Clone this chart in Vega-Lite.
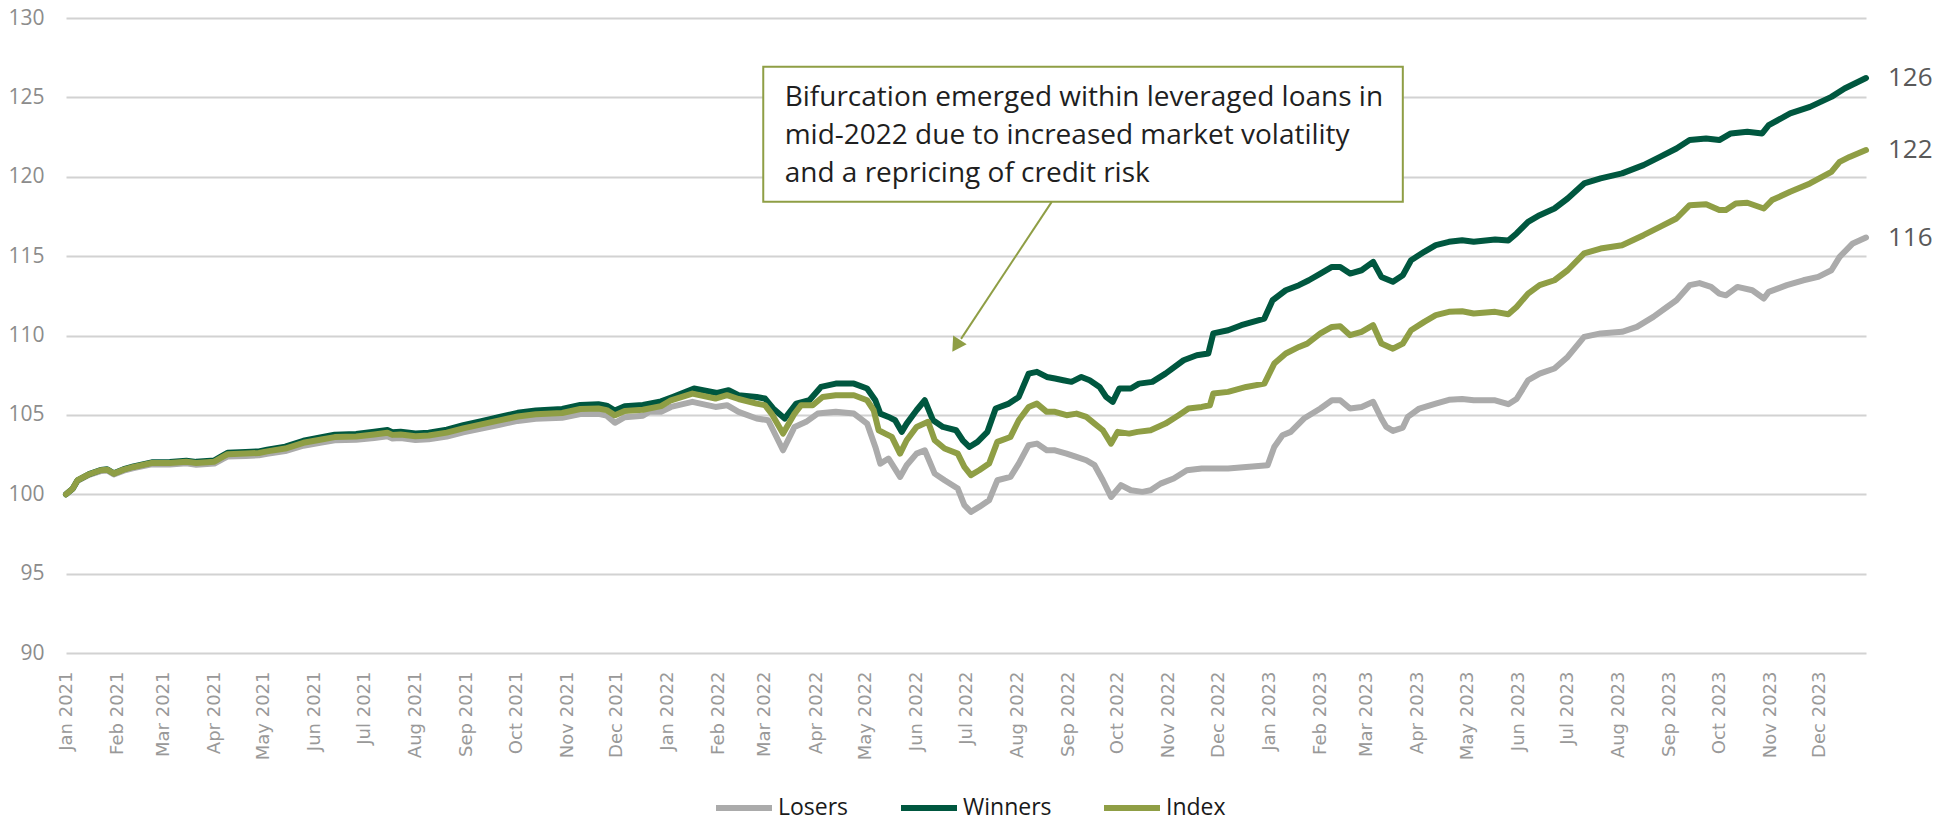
{
  "$schema": "https://vega.github.io/schema/vega-lite/v6.json",
  "width": 1800,
  "height": 635,
  "autosize": {"type": "none"},
  "padding": {"left": 66, "top": 18, "right": 91, "bottom": 170},
  "background": "white",
  "config": {
    "view": {"stroke": null},
    "font": "Open Sans"
  },
  "datasets": {
    "series": [
      {"date":"2021-01-01","series":"Losers","value":100.00},
      {"date":"2021-01-05","series":"Losers","value":100.33},
      {"date":"2021-01-08","series":"Losers","value":100.85},
      {"date":"2021-01-15","series":"Losers","value":101.22},
      {"date":"2021-01-22","series":"Losers","value":101.46},
      {"date":"2021-01-26","series":"Losers","value":101.50},
      {"date":"2021-01-30","series":"Losers","value":101.25},
      {"date":"2021-02-05","series":"Losers","value":101.49},
      {"date":"2021-02-11","series":"Losers","value":101.65},
      {"date":"2021-02-22","series":"Losers","value":101.89},
      {"date":"2021-03-05","series":"Losers","value":101.88},
      {"date":"2021-03-15","series":"Losers","value":101.95},
      {"date":"2021-03-21","series":"Losers","value":101.86},
      {"date":"2021-04-01","series":"Losers","value":101.93},
      {"date":"2021-04-06","series":"Losers","value":102.22},
      {"date":"2021-04-09","series":"Losers","value":102.38},
      {"date":"2021-04-20","series":"Losers","value":102.41},
      {"date":"2021-04-28","series":"Losers","value":102.45},
      {"date":"2021-05-03","series":"Losers","value":102.55},
      {"date":"2021-05-14","series":"Losers","value":102.72},
      {"date":"2021-05-25","series":"Losers","value":103.06},
      {"date":"2021-06-05","series":"Losers","value":103.26},
      {"date":"2021-06-13","series":"Losers","value":103.40},
      {"date":"2021-06-26","series":"Losers","value":103.43},
      {"date":"2021-07-07","series":"Losers","value":103.55},
      {"date":"2021-07-15","series":"Losers","value":103.65},
      {"date":"2021-07-18","series":"Losers","value":103.51},
      {"date":"2021-07-23","series":"Losers","value":103.54},
      {"date":"2021-08-01","series":"Losers","value":103.42},
      {"date":"2021-08-09","series":"Losers","value":103.46},
      {"date":"2021-08-20","series":"Losers","value":103.64},
      {"date":"2021-08-30","series":"Losers","value":103.90},
      {"date":"2021-09-10","series":"Losers","value":104.14},
      {"date":"2021-09-21","series":"Losers","value":104.38},
      {"date":"2021-10-02","series":"Losers","value":104.62},
      {"date":"2021-10-13","series":"Losers","value":104.75},
      {"date":"2021-10-29","series":"Losers","value":104.82},
      {"date":"2021-11-09","series":"Losers","value":105.05},
      {"date":"2021-11-20","series":"Losers","value":105.07},
      {"date":"2021-11-25","series":"Losers","value":104.95},
      {"date":"2021-11-30","series":"Losers","value":104.50},
      {"date":"2021-12-06","series":"Losers","value":104.85},
      {"date":"2021-12-17","series":"Losers","value":104.95},
      {"date":"2021-12-21","series":"Losers","value":105.20},
      {"date":"2021-12-28","series":"Losers","value":105.20},
      {"date":"2022-01-03","series":"Losers","value":105.50},
      {"date":"2022-01-16","series":"Losers","value":105.82},
      {"date":"2022-01-30","series":"Losers","value":105.50},
      {"date":"2022-02-06","series":"Losers","value":105.61},
      {"date":"2022-02-13","series":"Losers","value":105.19},
      {"date":"2022-02-24","series":"Losers","value":104.77},
      {"date":"2022-03-03","series":"Losers","value":104.66},
      {"date":"2022-03-12","series":"Losers","value":102.77},
      {"date":"2022-03-19","series":"Losers","value":104.24},
      {"date":"2022-03-26","series":"Losers","value":104.56},
      {"date":"2022-04-02","series":"Losers","value":105.08},
      {"date":"2022-04-13","series":"Losers","value":105.19},
      {"date":"2022-04-24","series":"Losers","value":105.08},
      {"date":"2022-05-02","series":"Losers","value":104.45},
      {"date":"2022-05-07","series":"Losers","value":102.98},
      {"date":"2022-05-10","series":"Losers","value":101.93},
      {"date":"2022-05-15","series":"Losers","value":102.25},
      {"date":"2022-05-22","series":"Losers","value":101.09},
      {"date":"2022-05-26","series":"Losers","value":101.83},
      {"date":"2022-06-01","series":"Losers","value":102.56},
      {"date":"2022-06-06","series":"Losers","value":102.77},
      {"date":"2022-06-12","series":"Losers","value":101.30},
      {"date":"2022-06-18","series":"Losers","value":100.88},
      {"date":"2022-06-26","series":"Losers","value":100.36},
      {"date":"2022-06-30","series":"Losers","value":99.31},
      {"date":"2022-07-04","series":"Losers","value":98.89},
      {"date":"2022-07-09","series":"Losers","value":99.20},
      {"date":"2022-07-15","series":"Losers","value":99.62},
      {"date":"2022-07-20","series":"Losers","value":100.88},
      {"date":"2022-07-28","series":"Losers","value":101.09},
      {"date":"2022-08-02","series":"Losers","value":101.93},
      {"date":"2022-08-08","series":"Losers","value":103.09},
      {"date":"2022-08-13","series":"Losers","value":103.19},
      {"date":"2022-08-19","series":"Losers","value":102.77},
      {"date":"2022-08-24","series":"Losers","value":102.77},
      {"date":"2022-08-31","series":"Losers","value":102.56},
      {"date":"2022-09-06","series":"Losers","value":102.35},
      {"date":"2022-09-12","series":"Losers","value":102.14},
      {"date":"2022-09-17","series":"Losers","value":101.83},
      {"date":"2022-09-22","series":"Losers","value":100.88},
      {"date":"2022-09-27","series":"Losers","value":99.83},
      {"date":"2022-10-03","series":"Losers","value":100.57},
      {"date":"2022-10-09","series":"Losers","value":100.25},
      {"date":"2022-10-16","series":"Losers","value":100.15},
      {"date":"2022-10-21","series":"Losers","value":100.25},
      {"date":"2022-10-27","series":"Losers","value":100.67},
      {"date":"2022-11-04","series":"Losers","value":100.99},
      {"date":"2022-11-12","series":"Losers","value":101.51},
      {"date":"2022-11-21","series":"Losers","value":101.62},
      {"date":"2022-11-29","series":"Losers","value":101.62},
      {"date":"2022-12-07","series":"Losers","value":101.62},
      {"date":"2022-12-18","series":"Losers","value":101.72},
      {"date":"2022-12-31","series":"Losers","value":101.83},
      {"date":"2023-01-04","series":"Losers","value":102.98},
      {"date":"2023-01-09","series":"Losers","value":103.72},
      {"date":"2023-01-14","series":"Losers","value":103.93},
      {"date":"2023-01-22","series":"Losers","value":104.77},
      {"date":"2023-02-01","series":"Losers","value":105.40},
      {"date":"2023-02-08","series":"Losers","value":105.92},
      {"date":"2023-02-13","series":"Losers","value":105.92},
      {"date":"2023-02-19","series":"Losers","value":105.40},
      {"date":"2023-02-26","series":"Losers","value":105.50},
      {"date":"2023-03-05","series":"Losers","value":105.82},
      {"date":"2023-03-10","series":"Losers","value":104.77},
      {"date":"2023-03-13","series":"Losers","value":104.24},
      {"date":"2023-03-17","series":"Losers","value":103.99},
      {"date":"2023-03-23","series":"Losers","value":104.20},
      {"date":"2023-03-26","series":"Losers","value":104.87},
      {"date":"2023-04-02","series":"Losers","value":105.40},
      {"date":"2023-04-12","series":"Losers","value":105.71},
      {"date":"2023-04-20","series":"Losers","value":105.95},
      {"date":"2023-04-28","series":"Losers","value":106.00},
      {"date":"2023-05-05","series":"Losers","value":105.92},
      {"date":"2023-05-18","series":"Losers","value":105.92},
      {"date":"2023-05-26","series":"Losers","value":105.67},
      {"date":"2023-05-31","series":"Losers","value":106.00},
      {"date":"2023-06-07","series":"Losers","value":107.18},
      {"date":"2023-06-14","series":"Losers","value":107.60},
      {"date":"2023-06-23","series":"Losers","value":107.92},
      {"date":"2023-07-01","series":"Losers","value":108.65},
      {"date":"2023-07-11","series":"Losers","value":109.91},
      {"date":"2023-07-21","series":"Losers","value":110.13},
      {"date":"2023-08-03","series":"Losers","value":110.23},
      {"date":"2023-08-12","series":"Losers","value":110.54},
      {"date":"2023-08-22","series":"Losers","value":111.17},
      {"date":"2023-08-29","series":"Losers","value":111.70},
      {"date":"2023-09-05","series":"Losers","value":112.22},
      {"date":"2023-09-13","series":"Losers","value":113.17},
      {"date":"2023-09-19","series":"Losers","value":113.30},
      {"date":"2023-09-26","series":"Losers","value":113.06},
      {"date":"2023-10-01","series":"Losers","value":112.64},
      {"date":"2023-10-05","series":"Losers","value":112.53},
      {"date":"2023-10-12","series":"Losers","value":113.06},
      {"date":"2023-10-21","series":"Losers","value":112.85},
      {"date":"2023-10-28","series":"Losers","value":112.33},
      {"date":"2023-10-31","series":"Losers","value":112.75},
      {"date":"2023-11-11","series":"Losers","value":113.17},
      {"date":"2023-11-21","series":"Losers","value":113.48},
      {"date":"2023-11-30","series":"Losers","value":113.69},
      {"date":"2023-12-08","series":"Losers","value":114.11},
      {"date":"2023-12-13","series":"Losers","value":114.95},
      {"date":"2023-12-21","series":"Losers","value":115.80},
      {"date":"2023-12-29","series":"Losers","value":116.17},

      {"date":"2021-01-01","series":"Winners","value":100.00},
      {"date":"2021-01-05","series":"Winners","value":100.35},
      {"date":"2021-01-08","series":"Winners","value":100.88},
      {"date":"2021-01-15","series":"Winners","value":101.27},
      {"date":"2021-01-22","series":"Winners","value":101.53},
      {"date":"2021-01-26","series":"Winners","value":101.57},
      {"date":"2021-01-30","series":"Winners","value":101.32},
      {"date":"2021-02-05","series":"Winners","value":101.58},
      {"date":"2021-02-11","series":"Winners","value":101.75},
      {"date":"2021-02-22","series":"Winners","value":102.01},
      {"date":"2021-03-05","series":"Winners","value":102.03},
      {"date":"2021-03-15","series":"Winners","value":102.11},
      {"date":"2021-03-21","series":"Winners","value":102.04},
      {"date":"2021-04-01","series":"Winners","value":102.13},
      {"date":"2021-04-06","series":"Winners","value":102.43},
      {"date":"2021-04-09","series":"Winners","value":102.61},
      {"date":"2021-04-20","series":"Winners","value":102.66},
      {"date":"2021-04-28","series":"Winners","value":102.70},
      {"date":"2021-05-03","series":"Winners","value":102.81},
      {"date":"2021-05-14","series":"Winners","value":103.00},
      {"date":"2021-05-25","series":"Winners","value":103.37},
      {"date":"2021-06-05","series":"Winners","value":103.59},
      {"date":"2021-06-13","series":"Winners","value":103.75},
      {"date":"2021-06-26","series":"Winners","value":103.80},
      {"date":"2021-07-07","series":"Winners","value":103.94},
      {"date":"2021-07-15","series":"Winners","value":104.05},
      {"date":"2021-07-18","series":"Winners","value":103.91},
      {"date":"2021-07-23","series":"Winners","value":103.94},
      {"date":"2021-08-01","series":"Winners","value":103.83},
      {"date":"2021-08-09","series":"Winners","value":103.88},
      {"date":"2021-08-20","series":"Winners","value":104.07},
      {"date":"2021-08-30","series":"Winners","value":104.35},
      {"date":"2021-09-10","series":"Winners","value":104.61},
      {"date":"2021-09-21","series":"Winners","value":104.87},
      {"date":"2021-10-02","series":"Winners","value":105.13},
      {"date":"2021-10-13","series":"Winners","value":105.28},
      {"date":"2021-10-29","series":"Winners","value":105.37},
      {"date":"2021-11-09","series":"Winners","value":105.63},
      {"date":"2021-11-20","series":"Winners","value":105.67},
      {"date":"2021-11-25","series":"Winners","value":105.58},
      {"date":"2021-11-30","series":"Winners","value":105.27},
      {"date":"2021-12-06","series":"Winners","value":105.55},
      {"date":"2021-12-17","series":"Winners","value":105.62},
      {"date":"2021-12-28","series":"Winners","value":105.85},
      {"date":"2022-01-04","series":"Winners","value":106.13},
      {"date":"2022-01-17","series":"Winners","value":106.66},
      {"date":"2022-01-31","series":"Winners","value":106.38},
      {"date":"2022-02-07","series":"Winners","value":106.55},
      {"date":"2022-02-13","series":"Winners","value":106.24},
      {"date":"2022-02-24","series":"Winners","value":106.13},
      {"date":"2022-03-01","series":"Winners","value":106.03},
      {"date":"2022-03-06","series":"Winners","value":105.40},
      {"date":"2022-03-13","series":"Winners","value":104.77},
      {"date":"2022-03-20","series":"Winners","value":105.71},
      {"date":"2022-03-28","series":"Winners","value":105.92},
      {"date":"2022-04-04","series":"Winners","value":106.76},
      {"date":"2022-04-13","series":"Winners","value":106.97},
      {"date":"2022-04-24","series":"Winners","value":106.97},
      {"date":"2022-05-02","series":"Winners","value":106.66},
      {"date":"2022-05-07","series":"Winners","value":105.92},
      {"date":"2022-05-10","series":"Winners","value":105.08},
      {"date":"2022-05-15","series":"Winners","value":104.87},
      {"date":"2022-05-19","series":"Winners","value":104.66},
      {"date":"2022-05-23","series":"Winners","value":103.93},
      {"date":"2022-05-26","series":"Winners","value":104.45},
      {"date":"2022-06-01","series":"Winners","value":105.29},
      {"date":"2022-06-06","series":"Winners","value":105.92},
      {"date":"2022-06-11","series":"Winners","value":104.66},
      {"date":"2022-06-17","series":"Winners","value":104.24},
      {"date":"2022-06-25","series":"Winners","value":104.03},
      {"date":"2022-06-29","series":"Winners","value":103.40},
      {"date":"2022-07-03","series":"Winners","value":102.98},
      {"date":"2022-07-08","series":"Winners","value":103.30},
      {"date":"2022-07-14","series":"Winners","value":103.93},
      {"date":"2022-07-19","series":"Winners","value":105.40},
      {"date":"2022-07-27","series":"Winners","value":105.71},
      {"date":"2022-08-02","series":"Winners","value":106.13},
      {"date":"2022-08-08","series":"Winners","value":107.60},
      {"date":"2022-08-13","series":"Winners","value":107.71},
      {"date":"2022-08-19","series":"Winners","value":107.39},
      {"date":"2022-08-24","series":"Winners","value":107.29},
      {"date":"2022-08-29","series":"Winners","value":107.18},
      {"date":"2022-09-03","series":"Winners","value":107.08},
      {"date":"2022-09-09","series":"Winners","value":107.39},
      {"date":"2022-09-14","series":"Winners","value":107.18},
      {"date":"2022-09-20","series":"Winners","value":106.76},
      {"date":"2022-09-24","series":"Winners","value":106.13},
      {"date":"2022-09-28","series":"Winners","value":105.82},
      {"date":"2022-10-02","series":"Winners","value":106.66},
      {"date":"2022-10-09","series":"Winners","value":106.66},
      {"date":"2022-10-14","series":"Winners","value":106.97},
      {"date":"2022-10-22","series":"Winners","value":107.08},
      {"date":"2022-10-30","series":"Winners","value":107.60},
      {"date":"2022-11-10","series":"Winners","value":108.44},
      {"date":"2022-11-18","series":"Winners","value":108.76},
      {"date":"2022-11-25","series":"Winners","value":108.87},
      {"date":"2022-11-28","series":"Winners","value":110.13},
      {"date":"2022-12-07","series":"Winners","value":110.33},
      {"date":"2022-12-15","series":"Winners","value":110.65},
      {"date":"2022-12-29","series":"Winners","value":111.07},
      {"date":"2023-01-03","series":"Winners","value":112.22},
      {"date":"2023-01-11","series":"Winners","value":112.85},
      {"date":"2023-01-19","series":"Winners","value":113.17},
      {"date":"2023-01-25","series":"Winners","value":113.48},
      {"date":"2023-02-01","series":"Winners","value":113.90},
      {"date":"2023-02-08","series":"Winners","value":114.32},
      {"date":"2023-02-13","series":"Winners","value":114.32},
      {"date":"2023-02-19","series":"Winners","value":113.90},
      {"date":"2023-02-26","series":"Winners","value":114.11},
      {"date":"2023-03-05","series":"Winners","value":114.64},
      {"date":"2023-03-10","series":"Winners","value":113.69},
      {"date":"2023-03-17","series":"Winners","value":113.38},
      {"date":"2023-03-23","series":"Winners","value":113.80},
      {"date":"2023-03-28","series":"Winners","value":114.74},
      {"date":"2023-04-05","series":"Winners","value":115.27},
      {"date":"2023-04-12","series":"Winners","value":115.69},
      {"date":"2023-04-20","series":"Winners","value":115.90},
      {"date":"2023-04-28","series":"Winners","value":116.00},
      {"date":"2023-05-05","series":"Winners","value":115.90},
      {"date":"2023-05-18","series":"Winners","value":116.05},
      {"date":"2023-05-26","series":"Winners","value":115.98},
      {"date":"2023-05-31","series":"Winners","value":116.43},
      {"date":"2023-06-07","series":"Winners","value":117.16},
      {"date":"2023-06-14","series":"Winners","value":117.58},
      {"date":"2023-06-23","series":"Winners","value":118.00},
      {"date":"2023-07-01","series":"Winners","value":118.63},
      {"date":"2023-07-11","series":"Winners","value":119.58},
      {"date":"2023-07-21","series":"Winners","value":119.90},
      {"date":"2023-08-03","series":"Winners","value":120.21},
      {"date":"2023-08-16","series":"Winners","value":120.73},
      {"date":"2023-08-26","series":"Winners","value":121.25},
      {"date":"2023-09-05","series":"Winners","value":121.78},
      {"date":"2023-09-13","series":"Winners","value":122.31},
      {"date":"2023-09-23","series":"Winners","value":122.41},
      {"date":"2023-10-01","series":"Winners","value":122.31},
      {"date":"2023-10-08","series":"Winners","value":122.73},
      {"date":"2023-10-18","series":"Winners","value":122.83},
      {"date":"2023-10-27","series":"Winners","value":122.73},
      {"date":"2023-10-31","series":"Winners","value":123.25},
      {"date":"2023-11-13","series":"Winners","value":123.99},
      {"date":"2023-11-25","series":"Winners","value":124.40},
      {"date":"2023-12-08","series":"Winners","value":125.03},
      {"date":"2023-12-16","series":"Winners","value":125.56},
      {"date":"2023-12-29","series":"Winners","value":126.22},

      {"date":"2021-01-01","series":"Index","value":100.00},
      {"date":"2021-01-05","series":"Index","value":100.35},
      {"date":"2021-01-08","series":"Index","value":100.88},
      {"date":"2021-01-15","series":"Index","value":101.26},
      {"date":"2021-01-22","series":"Index","value":101.51},
      {"date":"2021-01-26","series":"Index","value":101.55},
      {"date":"2021-01-30","series":"Index","value":101.30},
      {"date":"2021-02-05","series":"Index","value":101.55},
      {"date":"2021-02-11","series":"Index","value":101.72},
      {"date":"2021-02-22","series":"Index","value":101.97},
      {"date":"2021-03-05","series":"Index","value":101.97},
      {"date":"2021-03-15","series":"Index","value":102.05},
      {"date":"2021-03-21","series":"Index","value":101.97},
      {"date":"2021-04-01","series":"Index","value":102.05},
      {"date":"2021-04-06","series":"Index","value":102.35},
      {"date":"2021-04-09","series":"Index","value":102.52},
      {"date":"2021-04-20","series":"Index","value":102.56},
      {"date":"2021-04-28","series":"Index","value":102.60},
      {"date":"2021-05-03","series":"Index","value":102.70},
      {"date":"2021-05-14","series":"Index","value":102.88},
      {"date":"2021-05-25","series":"Index","value":103.24},
      {"date":"2021-06-05","series":"Index","value":103.45},
      {"date":"2021-06-13","series":"Index","value":103.60},
      {"date":"2021-06-26","series":"Index","value":103.64},
      {"date":"2021-07-07","series":"Index","value":103.77},
      {"date":"2021-07-15","series":"Index","value":103.88},
      {"date":"2021-07-18","series":"Index","value":103.74},
      {"date":"2021-07-23","series":"Index","value":103.77},
      {"date":"2021-08-01","series":"Index","value":103.65},
      {"date":"2021-08-09","series":"Index","value":103.70},
      {"date":"2021-08-20","series":"Index","value":103.88},
      {"date":"2021-08-30","series":"Index","value":104.15},
      {"date":"2021-09-10","series":"Index","value":104.40},
      {"date":"2021-09-21","series":"Index","value":104.65},
      {"date":"2021-10-02","series":"Index","value":104.90},
      {"date":"2021-10-13","series":"Index","value":105.04},
      {"date":"2021-10-29","series":"Index","value":105.12},
      {"date":"2021-11-09","series":"Index","value":105.37},
      {"date":"2021-11-20","series":"Index","value":105.40},
      {"date":"2021-11-25","series":"Index","value":105.30},
      {"date":"2021-11-30","series":"Index","value":104.97},
      {"date":"2021-12-06","series":"Index","value":105.25},
      {"date":"2021-12-17","series":"Index","value":105.32},
      {"date":"2021-12-28","series":"Index","value":105.55},
      {"date":"2022-01-03","series":"Index","value":105.92},
      {"date":"2022-01-16","series":"Index","value":106.34},
      {"date":"2022-01-30","series":"Index","value":106.03},
      {"date":"2022-02-06","series":"Index","value":106.24},
      {"date":"2022-02-13","series":"Index","value":106.00},
      {"date":"2022-02-24","series":"Index","value":105.71},
      {"date":"2022-03-01","series":"Index","value":105.61},
      {"date":"2022-03-05","series":"Index","value":105.08},
      {"date":"2022-03-12","series":"Index","value":103.82},
      {"date":"2022-03-19","series":"Index","value":105.08},
      {"date":"2022-03-23","series":"Index","value":105.61},
      {"date":"2022-03-30","series":"Index","value":105.61},
      {"date":"2022-04-05","series":"Index","value":106.13},
      {"date":"2022-04-13","series":"Index","value":106.24},
      {"date":"2022-04-24","series":"Index","value":106.24},
      {"date":"2022-05-02","series":"Index","value":105.92},
      {"date":"2022-05-06","series":"Index","value":105.29},
      {"date":"2022-05-09","series":"Index","value":104.03},
      {"date":"2022-05-13","series":"Index","value":103.82},
      {"date":"2022-05-17","series":"Index","value":103.61},
      {"date":"2022-05-22","series":"Index","value":102.56},
      {"date":"2022-05-26","series":"Index","value":103.40},
      {"date":"2022-06-01","series":"Index","value":104.24},
      {"date":"2022-06-08","series":"Index","value":104.56},
      {"date":"2022-06-12","series":"Index","value":103.40},
      {"date":"2022-06-18","series":"Index","value":102.88},
      {"date":"2022-06-26","series":"Index","value":102.56},
      {"date":"2022-06-30","series":"Index","value":101.72},
      {"date":"2022-07-04","series":"Index","value":101.20},
      {"date":"2022-07-09","series":"Index","value":101.51},
      {"date":"2022-07-15","series":"Index","value":101.93},
      {"date":"2022-07-20","series":"Index","value":103.30},
      {"date":"2022-07-28","series":"Index","value":103.61},
      {"date":"2022-08-02","series":"Index","value":104.66},
      {"date":"2022-08-08","series":"Index","value":105.50},
      {"date":"2022-08-13","series":"Index","value":105.71},
      {"date":"2022-08-19","series":"Index","value":105.19},
      {"date":"2022-08-24","series":"Index","value":105.19},
      {"date":"2022-08-31","series":"Index","value":104.98},
      {"date":"2022-09-06","series":"Index","value":105.08},
      {"date":"2022-09-12","series":"Index","value":104.87},
      {"date":"2022-09-17","series":"Index","value":104.45},
      {"date":"2022-09-22","series":"Index","value":104.03},
      {"date":"2022-09-27","series":"Index","value":103.19},
      {"date":"2022-10-01","series":"Index","value":103.93},
      {"date":"2022-10-08","series":"Index","value":103.82},
      {"date":"2022-10-13","series":"Index","value":103.93},
      {"date":"2022-10-21","series":"Index","value":104.03},
      {"date":"2022-10-30","series":"Index","value":104.45},
      {"date":"2022-11-07","series":"Index","value":104.98},
      {"date":"2022-11-13","series":"Index","value":105.40},
      {"date":"2022-11-21","series":"Index","value":105.50},
      {"date":"2022-11-26","series":"Index","value":105.61},
      {"date":"2022-11-28","series":"Index","value":106.34},
      {"date":"2022-12-07","series":"Index","value":106.45},
      {"date":"2022-12-18","series":"Index","value":106.76},
      {"date":"2022-12-29","series":"Index","value":106.97},
      {"date":"2023-01-04","series":"Index","value":108.23},
      {"date":"2023-01-11","series":"Index","value":108.87},
      {"date":"2023-01-19","series":"Index","value":109.28},
      {"date":"2023-01-24","series":"Index","value":109.49},
      {"date":"2023-02-01","series":"Index","value":110.13},
      {"date":"2023-02-08","series":"Index","value":110.54},
      {"date":"2023-02-13","series":"Index","value":110.58},
      {"date":"2023-02-19","series":"Index","value":110.02},
      {"date":"2023-02-26","series":"Index","value":110.23},
      {"date":"2023-03-05","series":"Index","value":110.65},
      {"date":"2023-03-10","series":"Index","value":109.49},
      {"date":"2023-03-17","series":"Index","value":109.17},
      {"date":"2023-03-23","series":"Index","value":109.49},
      {"date":"2023-03-28","series":"Index","value":110.33},
      {"date":"2023-04-05","series":"Index","value":110.86},
      {"date":"2023-04-12","series":"Index","value":111.28},
      {"date":"2023-04-20","series":"Index","value":111.49},
      {"date":"2023-04-28","series":"Index","value":111.53},
      {"date":"2023-05-05","series":"Index","value":111.39},
      {"date":"2023-05-18","series":"Index","value":111.49},
      {"date":"2023-05-26","series":"Index","value":111.34},
      {"date":"2023-05-31","series":"Index","value":111.80},
      {"date":"2023-06-07","series":"Index","value":112.64},
      {"date":"2023-06-14","series":"Index","value":113.17},
      {"date":"2023-06-23","series":"Index","value":113.48},
      {"date":"2023-07-01","series":"Index","value":114.11},
      {"date":"2023-07-11","series":"Index","value":115.17},
      {"date":"2023-07-21","series":"Index","value":115.48},
      {"date":"2023-08-03","series":"Index","value":115.69},
      {"date":"2023-08-16","series":"Index","value":116.32},
      {"date":"2023-08-26","series":"Index","value":116.84},
      {"date":"2023-09-05","series":"Index","value":117.37},
      {"date":"2023-09-13","series":"Index","value":118.21},
      {"date":"2023-09-23","series":"Index","value":118.27},
      {"date":"2023-10-01","series":"Index","value":117.90},
      {"date":"2023-10-05","series":"Index","value":117.90},
      {"date":"2023-10-11","series":"Index","value":118.32},
      {"date":"2023-10-18","series":"Index","value":118.36},
      {"date":"2023-10-28","series":"Index","value":118.00},
      {"date":"2023-11-02","series":"Index","value":118.53},
      {"date":"2023-11-13","series":"Index","value":119.05},
      {"date":"2023-11-25","series":"Index","value":119.58},
      {"date":"2023-12-08","series":"Index","value":120.31},
      {"date":"2023-12-13","series":"Index","value":120.94},
      {"date":"2023-12-19","series":"Index","value":121.25},
      {"date":"2023-12-29","series":"Index","value":121.68}
    ]
  },
  "layer": [
    {
      "data": {"values": [{}]},
      "mark": {"type": "rect", "fill": "white", "stroke": "#8F9E45", "strokeWidth": 2},
      "encoding": {
        "x": {"datum": {"year": 2022, "month": 2, "date": 28, "utc": true}, "type": "temporal"},
        "x2": {"datum": {"year": 2023, "month": 3, "date": 23, "utc": true}},
        "y": {"datum": 126.93, "type": "quantitative"},
        "y2": {"datum": 118.42}
      }
    },
    {
      "data": {"name": "series"},
      "mark": {"type": "line", "strokeWidth": 6, "strokeCap": "round", "strokeJoin": "round"},
      "encoding": {
        "x": {
          "field": "date",
          "type": "temporal",
          "scale": {"type": "utc", "nice": false},
          "axis": {
            "title": null,
            "format": "%b %Y",
            "tickCount": {"interval": "month", "step": 1},
            "labelAngle": -90,
            "labelFont": "DejaVu Sans",
            "labelFontSize": 18,
            "labelColor": "#999999",
            "labelPadding": 18,
            "labelOverlap": false,
            "labelFlush": false,
            "ticks": false,
            "domain": false,
            "grid": false
          }
        },
        "y": {
          "field": "value",
          "type": "quantitative",
          "scale": {"domain": [90, 130], "nice": false, "zero": false},
          "axis": {
            "title": null,
            "values": [90, 95, 100, 105, 110, 115, 120, 125, 130],
            "labelFont": "Open Sans",
            "labelFontSize": 21,
            "labelColor": "#8c8c8c",
            "labelPadding": 22,
            "ticks": false,
            "domain": false,
            "grid": true,
            "gridColor": "#d2d2d2",
            "gridWidth": 2
          }
        },
        "color": {
          "field": "series",
          "type": "nominal",
          "scale": {"domain": ["Losers", "Winners", "Index"], "range": ["#ABABAB", "#00573F", "#8F9E45"]},
          "legend": {
            "title": null,
            "orient": "none",
            "legendX": 647,
            "legendY": 759,
            "direction": "horizontal",
            "symbolType": "stroke",
            "symbolSize": 3136,
            "symbolStrokeWidth": 6,
            "labelFont": "Open Sans",
            "labelFontSize": 23,
            "labelColor": "#1a1a1a",
            "labelOffset": 3,
            "columnPadding": 40
          }
        }
      }
    },
    {
      "data": {"name": "series"},
      "transform": [{"filter": {"field": "date", "equal": {"year": 2023, "month": 12, "date": 29, "utc": true}}}],
      "mark": {"type": "text", "align": "left", "baseline": "middle", "dx": 22, "font": "Open Sans", "fontSize": 26, "color": "#595959"},
      "encoding": {
        "x": {"field": "date", "type": "temporal"},
        "y": {"field": "value", "type": "quantitative"},
        "text": {"field": "value", "type": "quantitative", "format": ".0f"}
      }
    },
    {
      "data": {"values": [{}]},
      "mark": {"type": "text", "align": "left", "baseline": "alphabetic", "font": "Open Sans", "fontSize": 28, "color": "#1f1f1f", "lineBreak": "\n", "lineHeight": 38},
      "encoding": {
        "x": {"datum": {"year": 2022, "month": 3, "date": 13, "utc": true}, "type": "temporal"},
        "y": {"datum": 124.43, "type": "quantitative"},
        "text": {"value": "Bifurcation emerged within leveraged loans in\nmid-2022 due to increased market volatility\nand a repricing of credit risk"}
      }
    },
    {
      "data": {"values": [{}]},
      "mark": {"type": "rule", "stroke": "#8F9E45", "strokeWidth": 2},
      "encoding": {
        "x": {"datum": {"year": 2022, "month": 8, "date": 22, "utc": true}, "type": "temporal"},
        "x2": {"datum": {"year": 2022, "month": 6, "date": 28, "utc": true}},
        "y": {"datum": 118.42, "type": "quantitative"},
        "y2": {"datum": 109.79}
      }
    },
    {
      "data": {"values": [{}]},
      "mark": {"type": "point", "shape": "triangle-up", "filled": true, "color": "#8F9E45", "size": 260, "angle": 213, "opacity": 1},
      "encoding": {
        "x": {"datum": {"year": 2022, "month": 6, "date": 25, "utc": true}, "type": "temporal"},
        "y": {"datum": 109.35, "type": "quantitative"}
      }
    }
  ]
}
